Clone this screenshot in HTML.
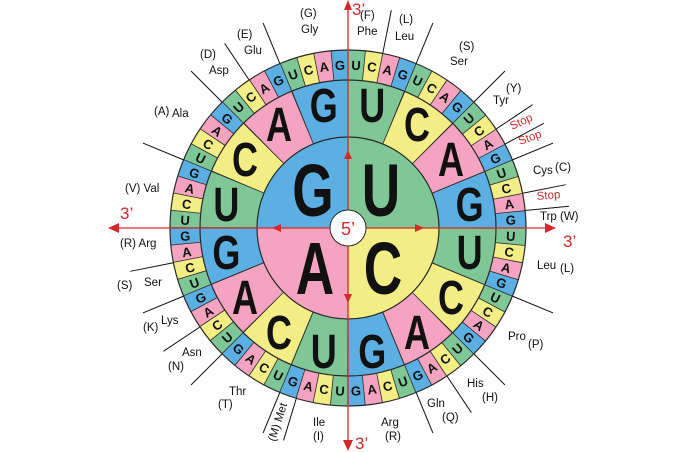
<!DOCTYPE html>
<html><head><meta charset="utf-8"><style>
html,body{margin:0;padding:0;background:#fff;width:700px;height:452px;overflow:hidden}
svg{display:block}
.l{font-family:"Liberation Sans",sans-serif;font-size:11.5px;fill:#111}
.s{font-family:"Liberation Sans",sans-serif;font-size:11.5px;fill:#d42a2a}
.o{font-family:"Liberation Sans",sans-serif;font-size:13px;font-weight:bold;fill:#111;text-anchor:middle}
.m{font-family:"Liberation Sans",sans-serif;font-size:48px;font-weight:bold;fill:#111;text-anchor:middle}
.b{font-family:"Liberation Sans",sans-serif;font-size:74px;font-weight:bold;fill:#111;text-anchor:middle}
</style></head><body>
<svg width="700" height="452" viewBox="0 0 700 452" xmlns="http://www.w3.org/2000/svg">
<g stroke="#111" stroke-width="1">
<line x1="348" y1="50" x2="348" y2="6" transform="rotate(11.25 348 228)"/>
<line x1="348" y1="50" x2="348" y2="6" transform="rotate(22.5 348 228)"/>
<line x1="348" y1="50" x2="348" y2="6" transform="rotate(45 348 228)"/>
<line x1="348" y1="50" x2="348" y2="6" transform="rotate(56.25 348 228)"/>
<line x1="348" y1="50" x2="348" y2="6" transform="rotate(61.875 348 228)"/>
<line x1="348" y1="50" x2="348" y2="6" transform="rotate(67.5 348 228)"/>
<line x1="348" y1="50" x2="348" y2="6" transform="rotate(78.75 348 228)"/>
<line x1="348" y1="50" x2="348" y2="6" transform="rotate(84.375 348 228)"/>
<line x1="348" y1="50" x2="348" y2="6" transform="rotate(112.5 348 228)"/>
<line x1="348" y1="50" x2="348" y2="6" transform="rotate(135 348 228)"/>
<line x1="348" y1="50" x2="348" y2="6" transform="rotate(146.25 348 228)"/>
<line x1="348" y1="50" x2="348" y2="6" transform="rotate(157.5 348 228)"/>
<line x1="348" y1="50" x2="348" y2="6" transform="rotate(196.875 348 228)"/>
<line x1="348" y1="50" x2="348" y2="6" transform="rotate(202.5 348 228)"/>
<line x1="348" y1="50" x2="348" y2="6" transform="rotate(225 348 228)"/>
<line x1="348" y1="50" x2="348" y2="6" transform="rotate(236.25 348 228)"/>
<line x1="348" y1="50" x2="348" y2="6" transform="rotate(247.5 348 228)"/>
<line x1="348" y1="50" x2="348" y2="6" transform="rotate(258.75 348 228)"/>
<line x1="348" y1="50" x2="348" y2="6" transform="rotate(292.5 348 228)"/>
<line x1="348" y1="50" x2="348" y2="6" transform="rotate(315 348 228)"/>
<line x1="348" y1="50" x2="348" y2="6" transform="rotate(326.25 348 228)"/>
<line x1="348" y1="50" x2="348" y2="6" transform="rotate(337.5 348 228)"/>
</g>
<g fill="none" stroke-width="30" transform="rotate(-90 348 228)">
<circle cx="348" cy="228" r="163" stroke="#7fc797" stroke-dasharray="16.0025 48.0075" stroke-dashoffset="0"/>
<circle cx="348" cy="228" r="163" stroke="#f2ed85" stroke-dasharray="16.0025 48.0075" stroke-dashoffset="-16.0025"/>
<circle cx="348" cy="228" r="163" stroke="#f4a4c1" stroke-dasharray="16.0025 48.0075" stroke-dashoffset="-32.005"/>
<circle cx="348" cy="228" r="163" stroke="#5cafe2" stroke-dasharray="16.0025 48.0075" stroke-dashoffset="-48.0075"/>
<circle cx="348" cy="228" r="163" stroke="#2a2a2a" stroke-dasharray="0.8 15.2025" stroke-dashoffset="0.4"/>
</g>
<g fill="none" stroke-width="57" transform="rotate(-90 348 228)">
<circle cx="348" cy="228" r="119.5" stroke="#7fc797" stroke-dasharray="46.9275 140.7825" stroke-dashoffset="0"/>
<circle cx="348" cy="228" r="119.5" stroke="#f2ed85" stroke-dasharray="46.9275 140.7825" stroke-dashoffset="-46.9275"/>
<circle cx="348" cy="228" r="119.5" stroke="#f4a4c1" stroke-dasharray="46.9275 140.7825" stroke-dashoffset="-93.855"/>
<circle cx="348" cy="228" r="119.5" stroke="#5cafe2" stroke-dasharray="46.9275 140.7825" stroke-dashoffset="-140.7825"/>
<circle cx="348" cy="228" r="119.5" stroke="#2a2a2a" stroke-dasharray="1 45.9275" stroke-dashoffset="0.5"/>
</g>
<path d="M348 228 L348 137 A91 91 0 0 0 257 228 Z" fill="#5cafe2"/>
<path d="M348 228 L348 137 A91 91 0 0 1 439 228 Z" fill="#7fc797"/>
<path d="M348 228 L439 228 A91 91 0 0 1 348 319 Z" fill="#f2ed85"/>
<path d="M348 228 L348 319 A91 91 0 0 1 257 228 Z" fill="#f4a4c1"/>
<g fill="none" stroke="#2a2a2a" stroke-width="1.2">
<circle cx="348" cy="228" r="178"/><circle cx="348" cy="228" r="148"/><circle cx="348" cy="228" r="91"/>
</g>
<g>
<text class="b" x="313" y="216" transform="translate(313 0) scale(0.72 1) translate(-313 0)">G</text>
<text class="b" x="381" y="216" transform="translate(381 0) scale(0.72 1) translate(-381 0)">U</text>
<text class="b" x="315" y="294" transform="translate(315 0) scale(0.72 1) translate(-315 0)">A</text>
<text class="b" x="383" y="294" transform="translate(383 0) scale(0.72 1) translate(-383 0)">C</text>
</g>
<g>
<text class="m" x="372.2" y="122" transform="translate(372.2 0) scale(0.75 1) translate(-372.2 0)">U</text>
<text class="m" x="417" y="141" transform="translate(417 0) scale(0.75 1) translate(-417 0)">C</text>
<text class="m" x="451" y="176" transform="translate(451 0) scale(0.75 1) translate(-451 0)">A</text>
<text class="m" x="469.6" y="221" transform="translate(469.6 0) scale(0.75 1) translate(-469.6 0)">G</text>
<text class="m" x="469.6" y="269" transform="translate(469.6 0) scale(0.75 1) translate(-469.6 0)">U</text>
<text class="m" x="451" y="314" transform="translate(451 0) scale(0.75 1) translate(-451 0)">C</text>
<text class="m" x="417" y="349" transform="translate(417 0) scale(0.75 1) translate(-417 0)">A</text>
<text class="m" x="372.2" y="368" transform="translate(372.2 0) scale(0.75 1) translate(-372.2 0)">G</text>
<text class="m" x="323.8" y="368" transform="translate(323.8 0) scale(0.75 1) translate(-323.8 0)">U</text>
<text class="m" x="279" y="349" transform="translate(279 0) scale(0.75 1) translate(-279 0)">C</text>
<text class="m" x="245" y="314" transform="translate(245 0) scale(0.75 1) translate(-245 0)">A</text>
<text class="m" x="226.4" y="269" transform="translate(226.4 0) scale(0.75 1) translate(-226.4 0)">G</text>
<text class="m" x="226.4" y="221" transform="translate(226.4 0) scale(0.75 1) translate(-226.4 0)">U</text>
<text class="m" x="245" y="176" transform="translate(245 0) scale(0.75 1) translate(-245 0)">C</text>
<text class="m" x="279" y="141" transform="translate(279 0) scale(0.75 1) translate(-279 0)">A</text>
<text class="m" x="323.8" y="122" transform="translate(323.8 0) scale(0.75 1) translate(-323.8 0)">G</text>
</g>
<g>
<text class="o" x="348" y="69.7" transform="rotate(2.8125 348 228)">U</text>
<text class="o" x="348" y="69.7" transform="rotate(8.4375 348 228)">C</text>
<text class="o" x="348" y="69.7" transform="rotate(14.0625 348 228)">A</text>
<text class="o" x="348" y="69.7" transform="rotate(19.6875 348 228)">G</text>
<text class="o" x="348" y="69.7" transform="rotate(25.3125 348 228)">U</text>
<text class="o" x="348" y="69.7" transform="rotate(30.9375 348 228)">C</text>
<text class="o" x="348" y="69.7" transform="rotate(36.5625 348 228)">A</text>
<text class="o" x="348" y="69.7" transform="rotate(42.1875 348 228)">G</text>
<text class="o" x="348" y="69.7" transform="rotate(47.8125 348 228) rotate(-90 348 65)">U</text>
<text class="o" x="348" y="69.7" transform="rotate(53.4375 348 228) rotate(-90 348 65)">C</text>
<text class="o" x="348" y="69.7" transform="rotate(59.0625 348 228) rotate(-90 348 65)">A</text>
<text class="o" x="348" y="69.7" transform="rotate(64.6875 348 228) rotate(-90 348 65)">G</text>
<text class="o" x="348" y="69.7" transform="rotate(70.3125 348 228) rotate(-90 348 65)">U</text>
<text class="o" x="348" y="69.7" transform="rotate(75.9375 348 228) rotate(-90 348 65)">C</text>
<text class="o" x="348" y="69.7" transform="rotate(81.5625 348 228) rotate(-90 348 65)">A</text>
<text class="o" x="348" y="69.7" transform="rotate(87.1875 348 228) rotate(-90 348 65)">G</text>
<text class="o" x="348" y="69.7" transform="rotate(92.8125 348 228) rotate(-90 348 65)">U</text>
<text class="o" x="348" y="69.7" transform="rotate(98.4375 348 228) rotate(-90 348 65)">C</text>
<text class="o" x="348" y="69.7" transform="rotate(104.0625 348 228) rotate(-90 348 65)">A</text>
<text class="o" x="348" y="69.7" transform="rotate(109.6875 348 228) rotate(-90 348 65)">G</text>
<text class="o" x="348" y="69.7" transform="rotate(115.3125 348 228) rotate(-90 348 65)">U</text>
<text class="o" x="348" y="69.7" transform="rotate(120.9375 348 228) rotate(-90 348 65)">C</text>
<text class="o" x="348" y="69.7" transform="rotate(126.5625 348 228) rotate(-90 348 65)">A</text>
<text class="o" x="348" y="69.7" transform="rotate(132.1875 348 228) rotate(-90 348 65)">G</text>
<text class="o" x="348" y="69.7" transform="rotate(137.8125 348 228) rotate(-180 348 65)">U</text>
<text class="o" x="348" y="69.7" transform="rotate(143.4375 348 228) rotate(-180 348 65)">C</text>
<text class="o" x="348" y="69.7" transform="rotate(149.0625 348 228) rotate(-180 348 65)">A</text>
<text class="o" x="348" y="69.7" transform="rotate(154.6875 348 228) rotate(-180 348 65)">G</text>
<text class="o" x="348" y="69.7" transform="rotate(160.3125 348 228) rotate(-180 348 65)">U</text>
<text class="o" x="348" y="69.7" transform="rotate(165.9375 348 228) rotate(-180 348 65)">C</text>
<text class="o" x="348" y="69.7" transform="rotate(171.5625 348 228) rotate(-180 348 65)">A</text>
<text class="o" x="348" y="69.7" transform="rotate(177.1875 348 228) rotate(-180 348 65)">G</text>
<text class="o" x="348" y="69.7" transform="rotate(182.8125 348 228) rotate(-180 348 65)">U</text>
<text class="o" x="348" y="69.7" transform="rotate(188.4375 348 228) rotate(-180 348 65)">C</text>
<text class="o" x="348" y="69.7" transform="rotate(194.0625 348 228) rotate(-180 348 65)">A</text>
<text class="o" x="348" y="69.7" transform="rotate(199.6875 348 228) rotate(-180 348 65)">G</text>
<text class="o" x="348" y="69.7" transform="rotate(205.3125 348 228) rotate(-180 348 65)">U</text>
<text class="o" x="348" y="69.7" transform="rotate(210.9375 348 228) rotate(-180 348 65)">C</text>
<text class="o" x="348" y="69.7" transform="rotate(216.5625 348 228) rotate(-180 348 65)">A</text>
<text class="o" x="348" y="69.7" transform="rotate(222.1875 348 228) rotate(-180 348 65)">G</text>
<text class="o" x="348" y="69.7" transform="rotate(227.8125 348 228) rotate(-270 348 65)">U</text>
<text class="o" x="348" y="69.7" transform="rotate(233.4375 348 228) rotate(-270 348 65)">C</text>
<text class="o" x="348" y="69.7" transform="rotate(239.0625 348 228) rotate(-270 348 65)">A</text>
<text class="o" x="348" y="69.7" transform="rotate(244.6875 348 228) rotate(-270 348 65)">G</text>
<text class="o" x="348" y="69.7" transform="rotate(250.3125 348 228) rotate(-270 348 65)">U</text>
<text class="o" x="348" y="69.7" transform="rotate(255.9375 348 228) rotate(-270 348 65)">C</text>
<text class="o" x="348" y="69.7" transform="rotate(261.5625 348 228) rotate(-270 348 65)">A</text>
<text class="o" x="348" y="69.7" transform="rotate(267.1875 348 228) rotate(-270 348 65)">G</text>
<text class="o" x="348" y="69.7" transform="rotate(272.8125 348 228) rotate(-270 348 65)">U</text>
<text class="o" x="348" y="69.7" transform="rotate(278.4375 348 228) rotate(-270 348 65)">C</text>
<text class="o" x="348" y="69.7" transform="rotate(284.0625 348 228) rotate(-270 348 65)">A</text>
<text class="o" x="348" y="69.7" transform="rotate(289.6875 348 228) rotate(-270 348 65)">G</text>
<text class="o" x="348" y="69.7" transform="rotate(295.3125 348 228) rotate(-270 348 65)">U</text>
<text class="o" x="348" y="69.7" transform="rotate(300.9375 348 228) rotate(-270 348 65)">C</text>
<text class="o" x="348" y="69.7" transform="rotate(306.5625 348 228) rotate(-270 348 65)">A</text>
<text class="o" x="348" y="69.7" transform="rotate(312.1875 348 228) rotate(-270 348 65)">G</text>
<text class="o" x="348" y="69.7" transform="rotate(317.8125 348 228)">U</text>
<text class="o" x="348" y="69.7" transform="rotate(323.4375 348 228)">C</text>
<text class="o" x="348" y="69.7" transform="rotate(329.0625 348 228)">A</text>
<text class="o" x="348" y="69.7" transform="rotate(334.6875 348 228)">G</text>
<text class="o" x="348" y="69.7" transform="rotate(340.3125 348 228)">U</text>
<text class="o" x="348" y="69.7" transform="rotate(345.9375 348 228)">C</text>
<text class="o" x="348" y="69.7" transform="rotate(351.5625 348 228)">A</text>
<text class="o" x="348" y="69.7" transform="rotate(357.1875 348 228)">G</text>
</g>
<g stroke="#d42a2a" stroke-width="1.3">
<line x1="348" y1="4" x2="348" y2="442"/>
<line x1="116" y1="228" x2="548" y2="228"/>
</g>
<g fill="#d42a2a">
<polygon points="348,0 344,10 352,10"/>
<polygon points="348,451 343,440 353,440"/>
<polygon points="108,228 119,223 119,233"/>
<polygon points="556,228 545,223 545,233"/>
<polygon points="348,150 344,159 352,159"/>
<polygon points="348,303 344,294 352,294"/>
<polygon points="272,228 281,224 281,232"/>
<polygon points="424,228 415,224 415,232"/>
</g>
<circle cx="348" cy="228" r="18" fill="#fff" stroke="#2a2a2a" stroke-width="1"/>
<text x="348" y="235" text-anchor="middle" style="font-family:'Liberation Sans',sans-serif;font-size:18px;fill:#d42a2a">5’</text>
<g style="font-family:'Liberation Sans',sans-serif;font-size:17px;fill:#d42a2a">
<text x="352" y="15">3’</text>
<text x="355" y="449">3’</text>
<text x="120" y="219">3’</text>
<text x="563" y="247">3’</text>
</g>
<g class="l">
<text class="l" x="300" y="17">(G)</text><text class="l" x="301" y="33">Gly</text>
<text class="l" x="360" y="19">(F)</text><text class="l" x="357" y="35">Phe</text>
<text class="l" x="399" y="23">(L)</text><text class="l" x="395" y="40">Leu</text>
<text class="l" x="459" y="50">(S)</text><text class="l" x="450" y="65">Ser</text>
<text class="l" x="506" y="92">(Y)</text><text class="l" x="493" y="104">Tyr</text>
<text class="l" x="533" y="174">Cys</text><text class="l" x="555" y="171">(C)</text>
<text class="l" x="540" y="220">Trp</text><text class="l" x="560" y="220">(W)</text>
<text class="l" x="537" y="269">Leu</text><text class="l" x="560" y="272">(L)</text>
<text class="l" x="508" y="340">Pro</text><text class="l" x="528" y="348">(P)</text>
<text class="l" x="467" y="387">His</text><text class="l" x="482" y="401">(H)</text>
<text class="l" x="427" y="407">Gln</text><text class="l" x="442" y="421">(Q)</text>
<text class="l" x="381" y="426">Arg</text><text class="l" x="385" y="440">(R)</text>
<text class="l" x="313" y="426">Ile</text><text class="l" x="313" y="440">(I)</text>
<text class="l" x="0" y="0" transform="translate(275 442) rotate(-72)">(M) Met</text>
<text class="l" x="229" y="395">Thr</text><text class="l" x="218" y="408">(T)</text>
<text class="l" x="182" y="356">Asn</text><text class="l" x="168" y="370">(N)</text>
<text class="l" x="143" y="331">(K)</text><text class="l" x="161" y="324">Lys</text>
<text class="l" x="117" y="289">(S)</text><text class="l" x="144" y="286">Ser</text>
<text class="l" x="120" y="247">(R) Arg</text>
<text class="l" x="125" y="192">(V) Val</text>
<text class="l" x="154" y="115">(A)</text><text class="l" x="172" y="117">Ala</text>
<text class="l" x="200" y="58">(D)</text><text class="l" x="209" y="74">Asp</text>
<text class="l" x="237" y="38">(E)</text><text class="l" x="244" y="54">Glu</text>
</g>
<text class="s" x="0" y="0" transform="translate(512 130) rotate(-25)">Stop</text>
<text class="s" x="0" y="0" transform="translate(520 145) rotate(-20)">Stop</text>
<text class="s" x="0" y="0" transform="translate(537 200) rotate(-5)">Stop</text>
</svg>
</body></html>
